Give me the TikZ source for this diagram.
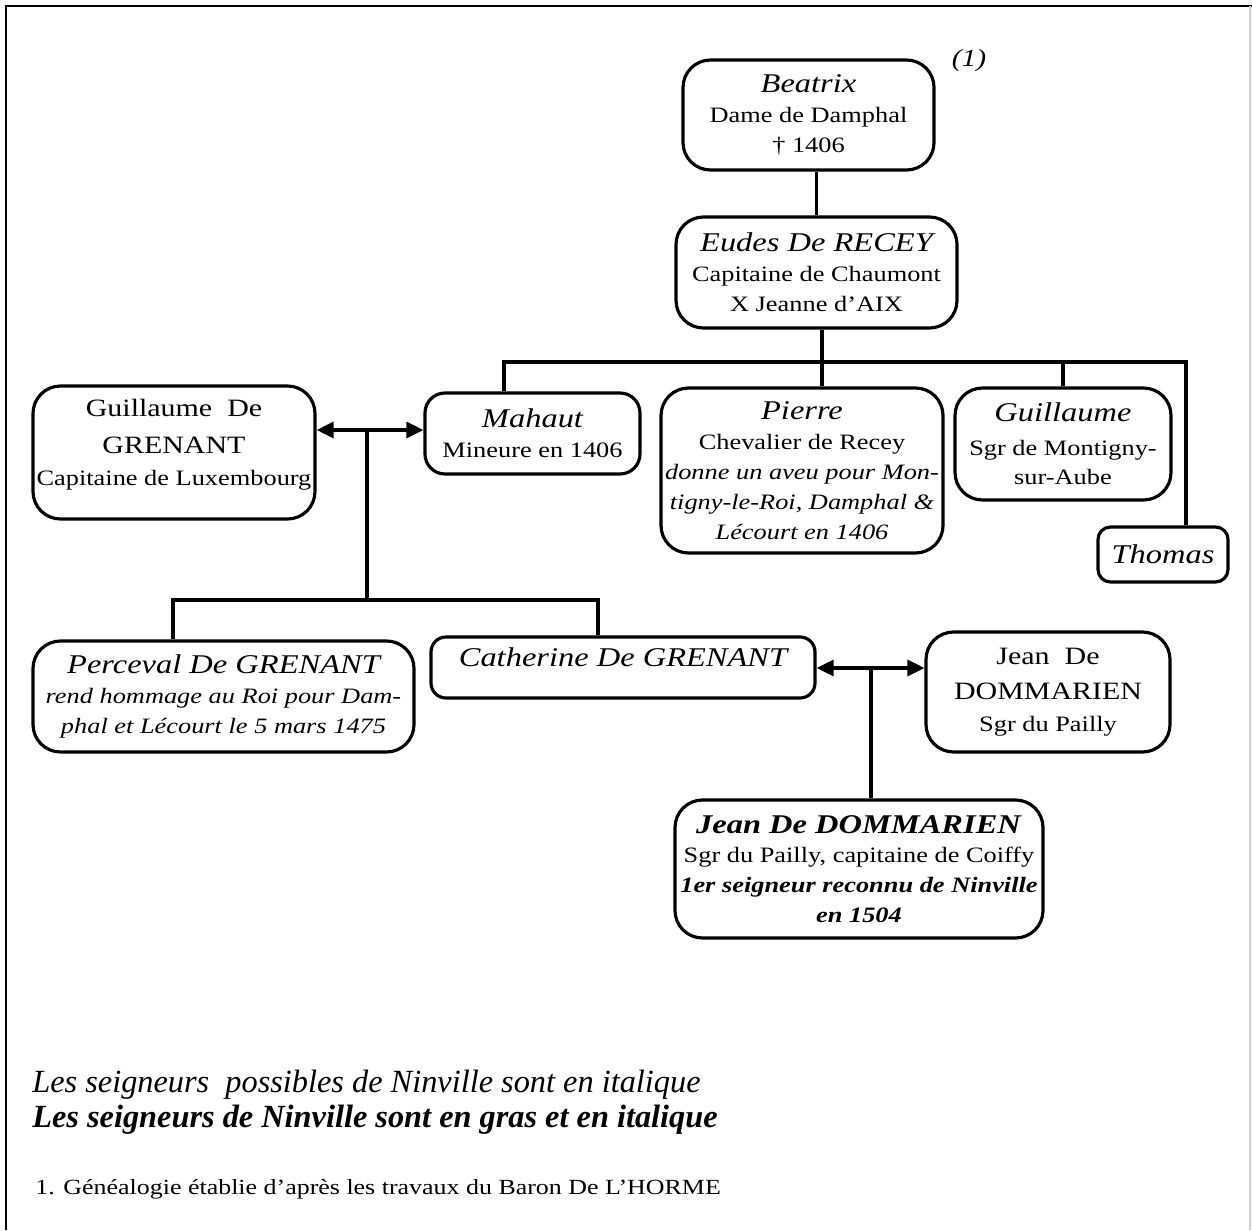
\documentclass[tikz,border=0pt]{standalone}
\usepackage{fontspec}
\setmainfont{Liberation Serif}[FakeStretch=1.2]
\newfontfamily\legendfont{Liberation Serif}
\usepackage{tikz}
\usetikzlibrary{arrows.meta, positioning}

\newcommand{\nm}[1]{{\fontsize{15.4}{17}\selectfont\itshape #1}} % italic name line
\newcommand{\bigname}[1]{{\fontsize{14.2}{17}\selectfont #1}} % upright name line

\tikzset{
  person/.style={draw, line width=1.8pt, rounded corners=0.55cm, inner sep=0pt},
  persontext/.style={align=center, inner sep=0pt, font=\fontsize{12.5}{17}\selectfont},
  link/.style={line width=1.8pt},
  wed/.style={link, {Triangle[length=0.34cm,width=0.32cm]}-{Triangle[length=0.34cm,width=0.32cm]}}
}

\begin{document}
\begin{tikzpicture}
\useasboundingbox (0,0) rectangle (25.04,-24.6);

% frame
\draw[line width=1pt] (0.12,-24.6) -- (0.12,-0.12) -- (25.04,-0.12);
\draw[gray!40, line width=0.8pt] (25.0,-0.12) -- (25.0,-24.6);

% Beatrix and Eudes
\node[person, minimum width=5.02cm, minimum height=2.2cm] (beatrix) at (16.17,-2.30) {};
\node[persontext] (beatrix-txt) at (beatrix) {\nm{Beatrix}\\Dame de Damphal\\\textdagger{} 1406};
\node[font=\fontsize{14}{16}\selectfont\itshape] (note) at (19.38,-1.22) {(1)};

\node[person, minimum width=5.62cm, minimum height=2.22cm] (eudes) at (16.33,-5.45) {};
\node[persontext] (eudes-txt) at (eudes) {\nm{Eudes De RECEY}\\Capitaine de Chaumont\\X Jeanne d’AIX};

% children of Eudes
\node[person, rounded corners=0.4cm, minimum width=4.3cm, minimum height=1.62cm] (mahaut) at (10.65,-8.67) {};
\node[persontext] (mahaut-txt) at (mahaut) {\nm{Mahaut}\\Mineure en 1406};

\node[person, minimum width=5.64cm, minimum height=3.3cm] (pierre) at (16.04,-9.41) {};
\node[persontext] (pierre-txt) at (pierre) {\nm{Pierre}\\Chevalier de Recey\\\textit{donne un aveu pour Mon-}\\\textit{tigny-le-Roi, Damphal \&}\\\textit{Lécourt en 1406}};

\node[person, minimum width=4.32cm, minimum height=2.24cm] (guillaume) at (21.26,-8.88) {};
\node[persontext] (guillaume-txt) at (guillaume) {\nm{Guillaume}\\[2pt]Sgr de Montigny-\\sur-Aube};

\node[person, rounded corners=0.25cm, minimum width=2.6cm, minimum height=1.1cm] (thomas) at (23.26,-11.09) {};
\node[persontext] (thomas-txt) at (thomas) {\nm{Thomas}};

% husband of Mahaut
\node[person, minimum width=5.64cm, minimum height=2.66cm] (guillgr) at (3.48,-9.05) {};
\node[persontext, yshift=0.16cm] (guillgr-txt) at (guillgr) {\bigname{Guillaume~ De}\\[4pt]\bigname{GRENANT}\\[1pt]Capitaine de Luxembourg};

% children of Mahaut
\node[person, minimum width=7.62cm, minimum height=2.22cm] (perceval) at (4.47,-13.93) {};
\node[persontext] (perceval-txt) at (perceval) {\nm{Perceval De GRENANT}\\\textit{rend hommage au Roi pour Dam-}\\\textit{phal et Lécourt le 5 mars 1475}};

\node[person, rounded corners=0.3cm, minimum width=7.68cm, minimum height=1.22cm] (catherine) at (12.46,-13.35) {};
\node[persontext, yshift=0.2cm] (catherine-txt) at (catherine) {\nm{Catherine De GRENANT}};

% husband of Catherine and their son
\node[person, minimum width=4.88cm, minimum height=2.4cm] (jeanpere) at (20.96,-13.84) {};
\node[persontext] (jeanpere-txt) at (jeanpere) {\bigname{Jean~ De}\\[3pt]\bigname{DOMMARIEN}\\[1pt]Sgr du Pailly};

\node[person, minimum width=7.36cm, minimum height=2.76cm] (jeanfils) at (17.18,-17.38) {};
\node[persontext] (jeanfils-txt) at (jeanfils) {\textbf{\nm{Jean De DOMMARIEN}}\\Sgr du Pailly, capitaine de Coiffy\\\textbf{\textit{1er seigneur reconnu de Ninville}}\\\textbf{\textit{en 1504}}};

% lines of descent
\coordinate (sibs) at (16.44,-7.24);
\coordinate (firstdrop) at (10.08,-7.24);
\coordinate (lastdrop) at (23.72,-7.24);
\draw[link] (beatrix.south -| eudes.north) -- (eudes.north);
\draw[link] (eudes.south -| sibs) -- (sibs) -- (sibs |- pierre.north);
\draw[link] (firstdrop |- mahaut.north) -- (firstdrop) -- (lastdrop) -- (lastdrop |- thomas.north);
\draw[link] (guillaume.north) -- (guillaume.north |- sibs);

% Guillaume x Mahaut
\coordinate (wed1) at (7.34,-8.60);
\coordinate (kidsl) at (3.46,-12.0);
\coordinate (kidsm) at (7.34,-12.0);
\coordinate (kidsr) at (11.96,-12.0);
\draw[wed] (guillgr.east |- wed1) -- (mahaut.west |- wed1);
\draw[link] (wed1) -- (kidsm);
\draw[link] (kidsl |- perceval.north) -- (kidsl) -- (kidsr) -- (kidsr |- catherine.north);

% Jean x Catherine
\coordinate (wed2) at (17.42,-13.36);
\draw[wed] (catherine.east |- wed2) -- (jeanpere.west |- wed2);
\draw[link] (wed2) -- (wed2 |- jeanfils.north);

% legend
\node[anchor=base west, inner sep=0pt, font=\legendfont\fontsize{18.4}{20}\selectfont\itshape] (legend1) at (0.64,-21.84) {Les seigneurs~ possibles de Ninville sont en italique};
\node[anchor=base west, inner sep=0pt, font=\legendfont\fontsize{18.4}{20}\selectfont\bfseries\itshape] (legend2) at (0.64,-22.54) {Les seigneurs de Ninville sont en gras et en italique};
\node[anchor=base west, inner sep=0pt, font=\fontsize{12.3}{15}\selectfont] (footnote) at (0.70,-23.88) {1. Généalogie établie d’après les travaux du Baron De L’HORME};

\end{tikzpicture}
\end{document}
